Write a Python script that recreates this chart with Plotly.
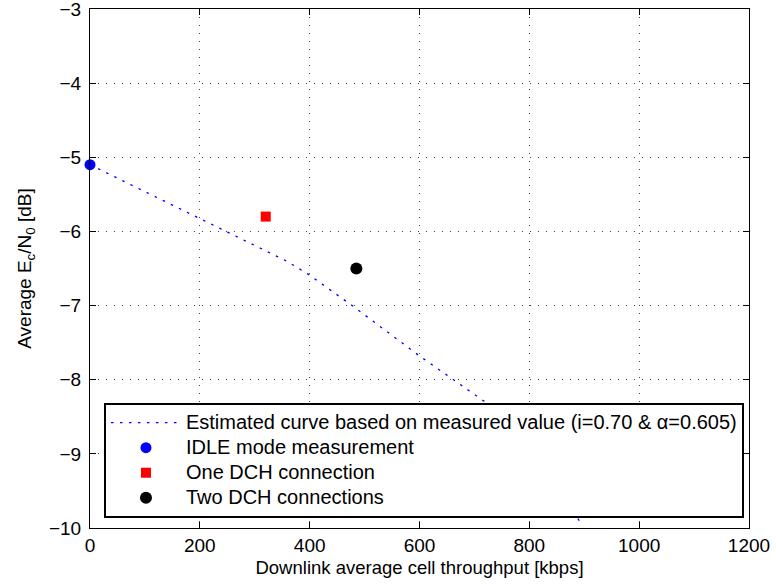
import plotly.graph_objects as go

# Estimated curve
curve_x = [0, 194, 358, 400, 481, 600, 643, 735, 896]
curve_y = [-5.10, -5.81, -6.40, -6.59, -7.02, -7.68, -7.90, -8.38, -9.95]

idle_x = [0]
idle_y = [-5.1]
one_dch_x = [320]
one_dch_y = [-5.8]
two_dch_x = [485]
two_dch_y = [-6.5]

x_ticks = [0, 200, 400, 600, 800, 1000, 1200]
y_ticks = [-10, -9, -8, -7, -6, -5, -4, -3]

legend_names = [
    "Estimated curve based on measured value (i=0.70 &amp; α=0.605)",
    "IDLE mode measurement",
    "One DCH connection",
    "Two DCH connections",
]

FONT = "Liberation Sans, Arial, Helvetica, sans-serif"


def big(s):
    return '<span style="font-size:20px">' + s + '</span>'


fig = go.Figure()
fig.add_trace(go.Scatter(
    x=curve_x, y=curve_y, mode="lines",
    line=dict(color="blue", width=1.3, dash="2.5px,6.5px"),
    name=big(legend_names[0]),
))
fig.add_trace(go.Scatter(
    x=idle_x, y=idle_y, mode="markers", cliponaxis=False,
    marker=dict(color="blue", size=11, symbol="circle"),
    name=big(legend_names[1]),
))
fig.add_trace(go.Scatter(
    x=one_dch_x, y=one_dch_y, mode="markers", cliponaxis=False,
    marker=dict(color="red", size=10, symbol="square"),
    name=big(legend_names[2]),
))
fig.add_trace(go.Scatter(
    x=two_dch_x, y=two_dch_y, mode="markers", cliponaxis=False,
    marker=dict(color="black", size=12, symbol="circle"),
    name=big(legend_names[3]),
))

axis_common = dict(
    showline=True, linecolor="black", linewidth=1, mirror="ticks",
    ticks="inside", ticklen=6, tickcolor="black", tickwidth=1,
    showgrid=True, gridcolor="#444444", gridwidth=1, griddash="1px,7px",
    zeroline=False, ticklabeloverflow="allow", automargin=False,
    tickfont=dict(family=FONT, size=19, color="black"),
)

fig.update_layout(
    width=776, height=587,
    margin=dict(l=90, r=27, t=9, b=59, autoexpand=False),
    paper_bgcolor="white", plot_bgcolor="white",
    font=dict(family=FONT, size=19, color="black"),
    xaxis=dict(
        range=[0, 1200], tickvals=x_ticks,
        title=dict(text="Downlink average cell throughput [kbps]", standoff=6,
                   font=dict(family=FONT, size=18.5)),
        **axis_common,
    ),
    yaxis=dict(
        range=[-10, -3], tickvals=y_ticks,
        title=dict(text="Average E<sub>c</sub>/N<sub>0</sub> [dB]", standoff=12,
                   font=dict(family=FONT, size=19)),
        ticklabelstandoff=4,
        **axis_common,
    ),
    legend=dict(
        x=0.0212, y=0.0193, xanchor="left", yanchor="bottom",
        bgcolor="white", bordercolor="black", borderwidth=2,
        font=dict(family=FONT, size=17, color="black"),
        itemwidth=70, tracegroupgap=0,
    ),
    showlegend=True,
)

fig.write_html("out.html")
